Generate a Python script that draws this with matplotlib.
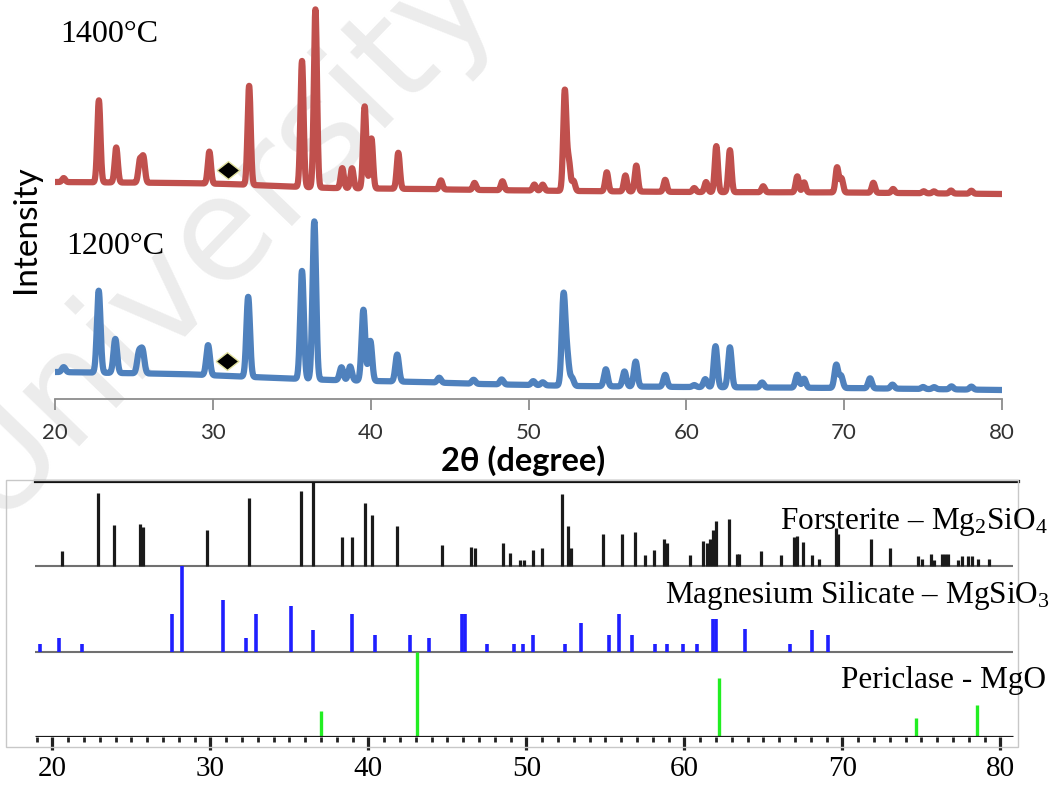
import numpy as np
import matplotlib
matplotlib.use('Agg')
import matplotlib.pyplot as plt
from matplotlib.patches import Rectangle

plt.rcParams['font.family'] = ['Lato', 'DejaVu Sans']
plt.rcParams['mathtext.fontset'] = 'custom'
plt.rcParams['mathtext.rm'] = 'Liberation Serif'
plt.rcParams['mathtext.it'] = 'Liberation Serif:italic'

# ---- measured XRD patterns (peak position in 2theta, height above background) ----
red_peaks = [20.55, 22.78, 23.88, 25.38, 25.60, 29.78, 32.30, 35.65, 36.50, 38.20,
             38.82, 39.62, 40.05, 41.75, 44.45, 46.58, 48.35, 50.37, 50.90, 52.30,
             52.55, 52.85, 54.96, 56.14, 56.83, 58.66, 60.50, 61.25, 61.90, 62.76,
             64.87, 67.03, 67.46, 69.55, 69.83, 71.85, 73.10, 75.04, 75.69, 76.77, 78.06]
red_heights = [4, 82, 35, 22, 25, 32, 99, 126, 178, 20,
               20, 82, 50, 36, 9, 7, 9, 6, 6, 100,
               30, 10, 19, 16, 26, 12, 4, 10, 46, 42,
               6, 16, 10, 25, 14, 10, 4, 2, 2, 3, 3]
red_bg_x = [20, 28, 31, 34, 37.5, 43, 47, 53, 60, 70, 80]
red_bg_y = [217, 216, 215, 213, 211, 210, 209, 208, 207, 206.5, 205]

blue_peaks = [20.55, 22.77, 23.82, 25.32, 25.55, 29.70, 32.24, 35.65, 36.43, 38.15,
              38.70, 39.54, 39.98, 41.68, 44.34, 46.52, 48.30, 50.30, 50.90, 52.22,
              52.45, 52.75, 54.90, 56.08, 56.79, 58.66, 60.50, 61.20, 61.85, 62.76,
              64.80, 67.03, 67.46, 69.50, 69.80, 71.64, 73.06, 75.00, 75.70, 76.80, 78.06]
blue_heights = [5, 82, 34, 20, 22, 30, 80, 108, 158, 13,
                14, 71, 40, 27, 5, 4, 5, 4, 3, 89,
                28, 8, 17, 15, 25, 12, 2, 8, 41, 40,
                5, 13, 9, 23, 12, 10, 4, 2, 2, 3, 3]
blue_bg_x = [20, 28, 31, 34, 37.5, 43, 47, 53, 60, 70, 80]
blue_bg_y = [27, 25, 23, 21, 19, 17, 15, 13, 12, 11, 9]

# ---- reference stick patterns (2theta, relative intensity %) ----
fo_pos = [20.63, 22.89, 23.90, 25.52, 25.72, 29.81, 32.45, 35.74, 36.52, 38.35,
          38.99, 39.79, 40.21, 41.80, 44.68, 46.50, 46.75, 48.54, 48.97, 49.60,
          49.85, 50.40, 51.01, 52.24, 52.66, 52.81, 54.87, 56.08, 56.88, 57.51,
          58.10, 58.72, 58.92, 60.36, 61.20, 61.42, 61.63, 61.80, 61.99, 62.83,
          63.32, 63.45, 64.85, 66.12, 66.96, 67.15, 67.49, 68.06, 68.52, 69.60,
          69.71, 71.82, 73.02, 74.81, 75.03, 75.62, 75.81, 76.30, 76.50, 76.70,
          77.30, 77.60, 77.94, 78.19, 78.57, 79.30]
fo_int = [18, 86, 49, 50, 46, 42, 80, 88, 100, 34,
          34, 74, 60, 47, 25, 23, 21, 27, 16, 8,
          8, 19, 21, 85, 47, 22, 38, 38, 40, 13,
          19, 32, 27, 13, 30, 27, 32, 43, 53, 56,
          15, 15, 18, 13, 34, 36, 28, 13, 9, 45,
          38, 32, 21, 12, 9, 15, 8, 15, 15, 15,
          8, 12, 12, 12, 9, 9]

ms_pos = [19.22, 20.42, 21.86, 27.56, 28.19, 30.82, 32.26, 32.87, 35.11, 36.52,
          38.99, 40.42, 42.64, 43.86, 45.91, 46.12, 47.53, 49.20, 49.77, 50.40,
          52.45, 53.44, 55.25, 55.89, 56.71, 58.15, 58.92, 59.94, 60.78, 61.84,
          62.02, 63.84, 66.69, 68.06, 69.11]
ms_int = [9, 16, 9, 44, 100, 61, 16, 44, 53, 25,
          44, 20, 20, 16, 44, 44, 9, 9, 9, 20,
          9, 34, 20, 44, 20, 9, 9, 9, 9, 38,
          38, 26, 9, 25, 20]

mgo_pos = [36.99, 43.06, 62.20, 74.67, 78.54]
mgo_int = [31, 100, 69, 22, 37]

W, H = 1063, 787
fig = plt.figure(figsize=(W / 100, H / 100), dpi=100)


def fx(px):
    return px / W


def fy(py):
    return 1 - py / H


fig.text(fx(218), fy(232), 'University', fontsize=104, color='#ececec',
         rotation=46, ha='center', va='center', rotation_mode='anchor',
         zorder=-5, family='DejaVu Sans')

# ---------------- top: measured patterns ----------------
ax = fig.add_axes([fx(55), fy(399), fx(1002) - fx(55), 399 / H])
ax.set_facecolor('none')
theta = np.linspace(20, 80, 6001)


def pattern(peaks, heights, bg_x, bg_y, sigma):
    y = np.interp(theta, bg_x, bg_y)
    for p, h in zip(peaks, heights):
        y = y + h * np.exp(-0.5 * ((theta - p) / sigma) ** 2)
    return y


red = pattern(red_peaks, red_heights, red_bg_x, red_bg_y, 0.10)
blue = pattern(blue_peaks, blue_heights, blue_bg_x, blue_bg_y, 0.115)
ax.plot(theta, red, color='#C0504D', lw=4.5, solid_joinstyle='round')
ax.plot(theta, blue, color='#4F81BD', lw=4.5, solid_joinstyle='round')

diamond = [(-1, 0), (0, 0.78), (1, 0), (0, -0.78), (-1, 0)]
ax.plot([30.96], [229], marker=diamond, ms=16.5, mfc='black', mec='#e2e2a0', mew=1, ls='none')
ax.plot([30.90], [38], marker=diamond, ms=16.5, mfc='black', mec='#e2e2a0', mew=1, ls='none')

ax.set_xlim(20, 80)
ax.set_ylim(0, 399)
for s in ['top', 'left', 'right']:
    ax.spines[s].set_visible(False)
ax.spines['bottom'].set_color('#8c8c8c')
ax.spines['bottom'].set_linewidth(1.3)
ax.set_xticks(range(20, 81, 10))
ax.set_yticks([])
ax.tick_params(axis='x', direction='out', length=8, width=1.3, color='#8c8c8c',
               labelsize=16, labelcolor='#333333', pad=9)

fig.text(fx(60), fy(35), '1400°C', family='Liberation Serif', fontsize=23, va='center')
fig.text(fx(66), fy(246), '1200°C', family='Liberation Serif', fontsize=23, va='center')
fig.text(fx(26), fy(229), 'Intensity', fontsize=24, rotation=90, ha='center', va='center')
fig.text(fx(523), fy(461), '2θ (degree)', fontsize=23.5, fontweight='bold', ha='center', va='center')

# ---------------- bottom: reference cards ----------------
bx = fig.add_axes([fx(35), fy(737), fx(1018) - fx(35), (737 - 481) / H])
bx.set_facecolor('none')
x0, x1 = 18.905, 80.81
bx.hlines([200, 100], x0, x1, color='#707070', lw=1.5)
bx.vlines(fo_pos, 200, 200 + np.array(fo_int), color='#1a1a1a', lw=2.3)
bx.vlines(ms_pos, 100, 100 + np.array(ms_int), color='#1f1fff', lw=2.6)
bx.vlines(mgo_pos, 0, np.array(mgo_int), color='#22ee22', lw=2.4)
bx.hlines(0, x0, x1, color='#1a1a1a', lw=2.3, zorder=3)

bx.set_xlim(18.905, 81.12)
bx.set_ylim(0, 300)
for s in ['bottom', 'left', 'right']:
    bx.spines[s].set_visible(False)
bx.spines['top'].set_linewidth(2.3)
bx.spines['top'].set_color('#111111')
bx.set_yticks([])
bx.set_xticks(range(20, 81, 10))
bx.set_xticks(range(19, 81), minor=True)
bx.tick_params(axis='x', which='major', direction='out', length=9, width=2.3,
               color='#222222', labelsize=21, pad=5)
bx.tick_params(axis='x', which='minor', direction='out', length=3.5, width=2, color='#222222')
for t in bx.get_xticklabels():
    t.set_family('Liberation Serif')

fig.patches.append(Rectangle((fx(6), fy(747)), fx(1018) - fx(6), (747 - 480) / H,
                             transform=fig.transFigure, fill=False,
                             edgecolor='#c8c8c8', lw=1))

fig.text(fx(1048), fy(529), 'Forsterite – Mg$_2$SiO$_4$', family='Liberation Serif',
         fontsize=22.5, ha='right', va='baseline')
fig.text(fx(1050), fy(603), 'Magnesium Silicate – MgSiO$_3$', family='Liberation Serif',
         fontsize=22.5, ha='right', va='baseline')
fig.text(fx(1046), fy(688), 'Periclase - MgO', family='Liberation Serif',
         fontsize=22.5, ha='right', va='baseline')

fig.savefig('out.png', dpi=100)
